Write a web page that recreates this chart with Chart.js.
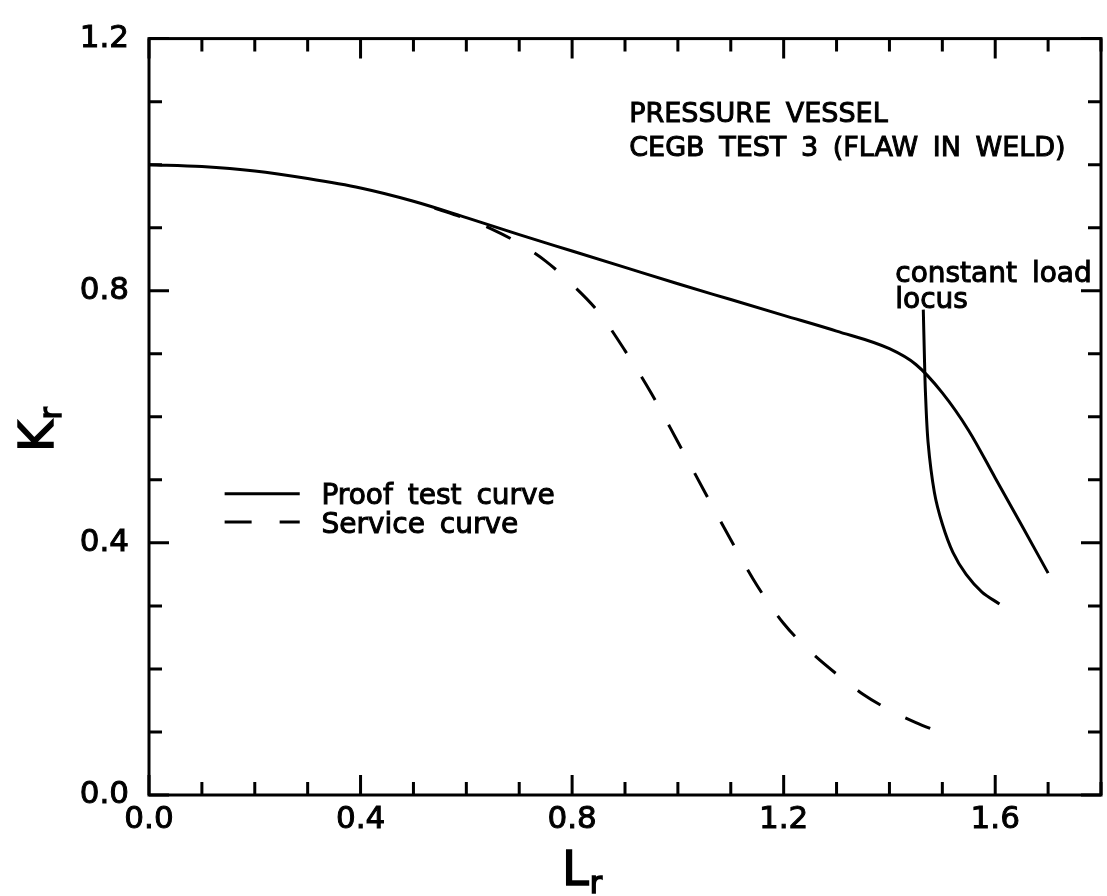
<!DOCTYPE html>
<html>
<head>
<meta charset="utf-8">
<title>Kr - Lr</title>
<script src="https://cdn.jsdelivr.net/npm/chart.js@4.4.0/dist/chart.umd.min.js"></script>
<style>
  body { margin: 0; background: #fff; }
  #wrap { width: 1107px; height: 896px; }
</style>
</head>
<body>
<div id="wrap"><canvas id="chart"></canvas></div>
<script>
// proof test curve
const proofLr = [0, 0.1, 0.2, 0.3, 0.4, 0.5, 0.6, 0.7, 0.8, 0.9, 1.0, 1.1, 1.2, 1.3, 1.4, 1.45, 1.5, 1.55, 1.6, 1.65, 1.7];
const proofKr = [1.0, 0.997, 0.99, 0.978, 0.963, 0.942, 0.916, 0.889, 0.863, 0.837, 0.811, 0.786, 0.761, 0.736, 0.708, 0.683, 0.638, 0.578, 0.503, 0.428, 0.352];

// service curve (dashed)
const serviceLr = [0.54, 0.6, 0.65, 0.7, 0.75, 0.8, 0.85, 0.9, 0.95, 1.0, 1.05, 1.1, 1.15, 1.2, 1.25, 1.3, 1.35, 1.4, 1.45, 1.5];
const serviceKr = [0.931, 0.914, 0.897, 0.875, 0.847, 0.81, 0.766, 0.705, 0.637, 0.56, 0.482, 0.405, 0.332, 0.272, 0.228, 0.192, 0.16, 0.135, 0.115, 0.098];

// constant load locus
const locusLr = [1.464, 1.466, 1.468, 1.473, 1.485, 1.5, 1.52, 1.545, 1.575, 1.608];
const locusKr = [0.77, 0.70, 0.64, 0.56, 0.48, 0.43, 0.385, 0.35, 0.322, 0.303];

const seriesNames = ['Proof test curve', 'Service curve'];
const titleLines = ['PRESSURE VESSEL', 'CEGB TEST 3 (FLAW IN WELD)'];
const locusLabel = ['constant load', 'locus'];

const xMax = 1.8, yMax = 1.2;
const minorStep = 0.1, majorStep = 0.4;

const FONT = '"DejaVu Sans", sans-serif';

function pts(xs, ys) {
  return xs.map((x, i) => ({ x: x, y: ys[i] }));
}

function isMajor(v) {
  return Math.round(v / minorStep) % Math.round(majorStep / minorStep) === 0;
}

function tickLabel(v) {
  return isMajor(v) ? Number(v).toFixed(1) : '';
}

// plotter-style text: fill plus a thin outline for heavier strokes
function heavyText(ctx, s, x, y) {
  ctx.fillText(s, x, y);
  ctx.strokeText(s, x, y);
}

// main letter plus lowered subscript
function drawSub(ctx, main, sub, x, y) {
  ctx.font = '48px ' + FONT;
  heavyText(ctx, main, x, y);
  const w = ctx.measureText(main).width;
  ctx.font = '30px ' + FONT;
  heavyText(ctx, sub, x + w + 1, y + 8);
}

const framePlugin = {
  id: 'frame',
  afterDraw(chart) {
    const ctx = chart.ctx, a = chart.chartArea;
    const xs = chart.scales.x, ys = chart.scales.y;
    ctx.save();
    ctx.strokeStyle = '#000';
    ctx.fillStyle = '#000';
    ctx.lineWidth = 3;
    ctx.strokeRect(a.left, a.top, a.right - a.left, a.bottom - a.top);

    // inward ticks on all four sides
    ctx.beginPath();
    xs.ticks.forEach(t => {
      const px = xs.getPixelForValue(t.value);
      const len = isMajor(t.value) ? 20 : 13;
      ctx.moveTo(px, a.bottom); ctx.lineTo(px, a.bottom - len);
      ctx.moveTo(px, a.top); ctx.lineTo(px, a.top + len);
    });
    ys.ticks.forEach(t => {
      const py = ys.getPixelForValue(t.value);
      const len = isMajor(t.value) ? 20 : 13;
      ctx.moveTo(a.left, py); ctx.lineTo(a.left + len, py);
      ctx.moveTo(a.right, py); ctx.lineTo(a.right - len, py);
    });
    ctx.stroke();

    // annotations
    ctx.textAlign = 'left';
    ctx.textBaseline = 'alphabetic';
    if ('wordSpacing' in ctx) ctx.wordSpacing = '6px';
    ctx.lineWidth = 1;
    ctx.font = '27px ' + FONT;
    heavyText(ctx, titleLines[0], xs.getPixelForValue(0.908), ys.getPixelForValue(1.067));
    heavyText(ctx, titleLines[1], xs.getPixelForValue(0.908), ys.getPixelForValue(1.013));

    ctx.font = '28px ' + FONT;
    heavyText(ctx, locusLabel[0], xs.getPixelForValue(1.411), ys.getPixelForValue(0.814));
    heavyText(ctx, locusLabel[1], xs.getPixelForValue(1.411), ys.getPixelForValue(0.772));

    // legend
    const ds = chart.data.datasets;
    const lx0 = xs.getPixelForValue(0.143), lx1 = xs.getPixelForValue(0.285);
    const rows = [[0.478, 0.461], [0.433, 0.416]];
    rows.forEach((r, i) => {
      const py = ys.getPixelForValue(r[0]);
      ctx.lineWidth = ds[i].borderWidth;
      ctx.setLineDash(ds[i].borderDash || []);
      ctx.beginPath();
      ctx.moveTo(lx0, py); ctx.lineTo(lx1, py);
      ctx.stroke();
      ctx.setLineDash([]);
      ctx.lineWidth = 1;
      heavyText(ctx, ds[i].label, xs.getPixelForValue(0.326), ys.getPixelForValue(r[1]));
    });
    if ('wordSpacing' in ctx) ctx.wordSpacing = '0px';

    // axis titles
    ctx.lineWidth = 1.5;
    drawSub(ctx, 'L', 'r', a.left + 413, 885);
    ctx.translate(53, 452);
    ctx.rotate(-Math.PI / 2);
    drawSub(ctx, 'K', 'r', 0, 0);
    ctx.restore();
  }
};

const tickFont = { family: FONT, size: 31 };

new Chart(document.getElementById('chart'), {
  type: 'scatter',
  data: {
    datasets: [
      {
        label: seriesNames[0],
        data: pts(proofLr, proofKr),
        showLine: true,
        borderColor: '#000',
        borderWidth: 3,
        pointRadius: 0,
        cubicInterpolationMode: 'monotone'
      },
      {
        label: seriesNames[1],
        data: pts(serviceLr, serviceKr),
        showLine: true,
        borderColor: '#000',
        borderWidth: 3,
        borderDash: [27, 28],
        pointRadius: 0,
        cubicInterpolationMode: 'monotone'
      },
      {
        label: 'locus',
        data: pts(locusLr, locusKr),
        showLine: true,
        borderColor: '#000',
        borderWidth: 3,
        pointRadius: 0,
        tension: 0.3
      }
    ]
  },
  options: {
    responsive: true,
    maintainAspectRatio: false,
    animation: false,
    layout: { padding: { top: 30, right: 4, left: 0, bottom: 0 } },
    plugins: {
      legend: { display: false },
      tooltip: { enabled: false }
    },
    scales: {
      x: {
        type: 'linear',
        min: 0,
        max: xMax,
        grid: { display: false, drawTicks: false },
        border: { display: false },
        ticks: {
          stepSize: minorStep,
          autoSkip: false,
          maxRotation: 0,
          padding: 6,
          color: '#000',
          textStrokeColor: '#000',
          textStrokeWidth: 1,
          font: tickFont,
          callback: tickLabel
        },
        afterFit(s) { s.height = 101; }
      },
      y: {
        type: 'linear',
        min: 0,
        max: yMax,
        grid: { display: false, drawTicks: false },
        border: { display: false },
        ticks: {
          stepSize: minorStep,
          autoSkip: false,
          padding: 20,
          color: '#000',
          textStrokeColor: '#000',
          textStrokeWidth: 1,
          font: tickFont,
          callback: tickLabel
        },
        afterFit(s) { s.width = 149; }
      }
    }
  },
  plugins: [framePlugin]
});
</script>
</body>
</html>
